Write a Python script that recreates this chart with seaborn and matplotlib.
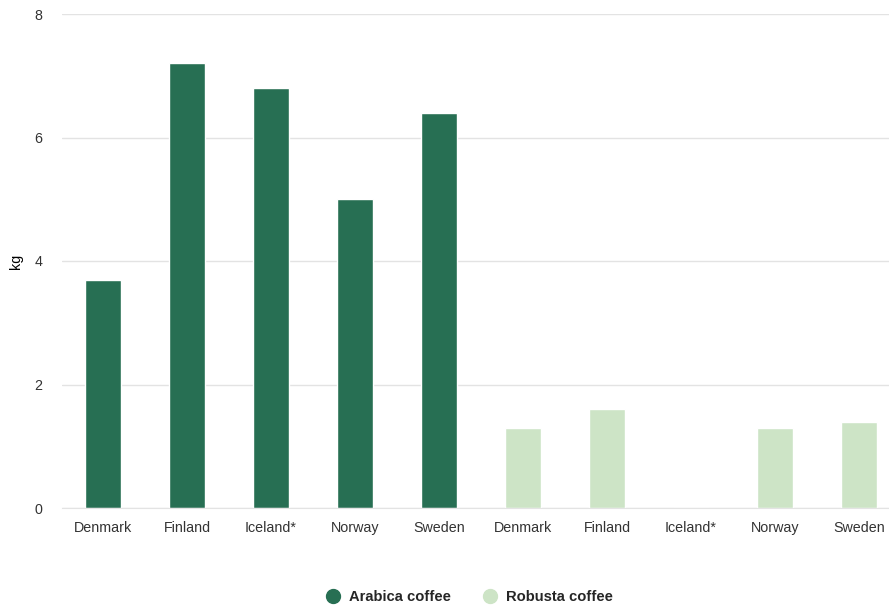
import seaborn as sns
import pandas as pd
import matplotlib.pyplot as plt
from matplotlib.lines import Line2D

# data
countries = ["Denmark", "Finland", "Iceland*", "Norway", "Sweden"]
arabica = [3.7, 7.2, 6.8, 5.0, 6.4]
robusta = [1.3, 1.6, 0.0, 1.3, 1.4]
series = ["Arabica coffee", "Robusta coffee"]
colors = ["#276f53", "#cde4c6"]

# one slot per bar, arabica group first then robusta group
slots = [f"{s}|{c}" for s in series for c in countries]
df = pd.DataFrame({
    "slot": slots,
    "value": arabica + robusta,
    "type": [series[0]] * 5 + [series[1]] * 5,
})

sns.set_style("white")
plt.rcParams["font.family"] = ["Liberation Sans", "DejaVu Sans"]

fig = plt.figure(figsize=(8.89, 6.06), dpi=100)
ax = fig.add_axes([62 / 889, 1 - 508 / 606, 1 - 62 / 889, (508 - 14) / 606])

sns.barplot(data=df, x="slot", y="value", hue="type", order=slots,
            palette=colors, dodge=False, width=36 / 84, ax=ax,
            legend=False, saturation=1)

ax.set_xlim(-41 / 84, 9 + 30 / 84)
ax.set_ylim(0, 8)
ax.set_yticks([0, 2, 4, 6, 8])
ax.set_xticks(range(10))
ax.set_xticklabels(countries * 2)
ax.yaxis.grid(True, color="#e3e3e3", linewidth=1)
ax.set_axisbelow(True)
for s in ["top", "right", "left"]:
    ax.spines[s].set_visible(False)
ax.spines["bottom"].set_color("#e3e3e3")
ax.tick_params(axis="both", length=0, labelsize=10.3, colors="#333333")
ax.tick_params(axis="x", pad=17.5)
ax.tick_params(axis="y", pad=14)
for lbl in ax.get_xticklabels():
    lbl.set_verticalalignment("baseline")
ax.set_xlabel("")
ax.set_ylabel("kg", fontsize=10.3, color="#000000", labelpad=8)

handles = [Line2D([], [], marker="o", linestyle="", markersize=10,
                  markerfacecolor=c, markeredgecolor=c) for c in colors]
leg = fig.legend(handles, series, loc="center", bbox_to_anchor=(0.5235, 1 - 597 / 606),
                 ncol=2, frameon=False, handletextpad=0.05, columnspacing=1.7,
                 prop={"weight": "bold", "size": 10.6})

fig.savefig("out.png", dpi=100)
